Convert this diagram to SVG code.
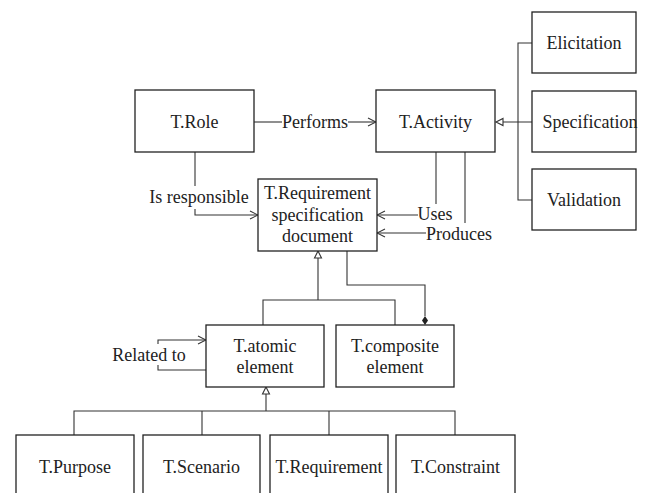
<svg xmlns="http://www.w3.org/2000/svg" width="656" height="493" viewBox="0 0 656 493">
<style>
.box{fill:#fff;stroke:#222;stroke-width:1.3}
.ln{fill:none;stroke:#333;stroke-width:1.1}
.t{font-family:'Liberation Serif','Times New Roman','DejaVu Serif',serif;font-size:18px;fill:#222;text-anchor:middle;dominant-baseline:central}
.tri{fill:#fff;stroke:#333;stroke-width:1.1}
</style>
<defs>
<marker id="open" markerWidth="10" markerHeight="10" refX="9" refY="5" orient="auto" markerUnits="userSpaceOnUse">
<path d="M1,1 L9,5 L1,9" fill="none" stroke="#333" stroke-width="1.1"/>
</marker>
</defs>
<rect width="656" height="493" fill="#fff"/>
<g id="connectors">
<path class="ln" d="M254,122 H282"/>
<path class="ln" d="M348,122 H376" marker-end="url(#open)"/>
<text class="t" x="315" y="122">Performs</text>
<path class="ln" d="M195,152 V186"/>
<path class="ln" d="M195,209 V215 H258" marker-end="url(#open)"/>
<text class="t" x="199" y="197">Is responsible</text>
<path class="ln" d="M436,152 V204"/>
<path class="ln" d="M418,215 H377" marker-end="url(#open)"/>
<text class="t" x="435" y="214">Uses</text>
<path class="ln" d="M465,152 V223"/>
<path class="ln" d="M426,233 H377" marker-end="url(#open)"/>
<text class="t" x="459" y="234">Produces</text>
<path class="ln" d="M532,43 H518 V200 H532 M532,122 H503"/>
<path class="tri" d="M496,122 L503,118.5 L503,125.5 Z"/>
<path class="ln" d="M318,258 V300 M263,325 V300 H395 V325"/>
<path class="tri" d="M318,251 L314.5,258 L321.5,258 Z"/>
<path class="ln" d="M347,251 V285 H425 V316"/>
<path d="M425,316 L428,320.5 L425,325 L422,320.5 Z" fill="#222"/>
<path class="ln" d="M206,370 H158 V365 M158,344 V340 H206" marker-end="url(#open)"/>
<text class="t" x="149" y="355">Related to</text>
<path class="ln" d="M266,393 V411 M74,435 V411 H455 V435 M202,411 V435 M329,411 V435"/>
<path class="tri" d="M266,387 L262.5,394 L269.5,394 Z"/>
</g>
<g id="role"><rect class="box" x="135" y="90" width="119" height="62"/><text class="t" x="194.5" y="122">T.Role</text></g>
<g id="activity"><rect class="box" x="376" y="90" width="119" height="62"/><text class="t" x="435.5" y="122">T.Activity</text></g>
<g id="elicitation"><rect class="box" x="532" y="12" width="104" height="61"/><text class="t" x="584" y="43">Elicitation</text></g>
<g id="specification"><rect class="box" x="532" y="91" width="104" height="61"/><text class="t" x="590" y="122">Specification</text></g>
<g id="validation"><rect class="box" x="532" y="169" width="104" height="61"/><text class="t" x="584" y="200">Validation</text></g>
<g id="reqdoc"><rect class="box" x="258" y="179" width="119" height="72"/>
<text class="t" x="317.5" y="193">T.Requirement</text>
<text class="t" x="317.5" y="215">specification</text>
<text class="t" x="317.5" y="236">document</text></g>
<g id="atomic"><rect class="box" x="206" y="325" width="118" height="62"/>
<text class="t" x="265" y="346">T.atomic</text>
<text class="t" x="265" y="367">element</text></g>
<g id="composite"><rect class="box" x="336" y="325" width="118" height="62"/>
<text class="t" x="395" y="346">T.composite</text>
<text class="t" x="395" y="367">element</text></g>
<g id="purpose"><rect class="box" x="16" y="435" width="118" height="70"/><text class="t" x="75" y="467">T.Purpose</text></g>
<g id="scenario"><rect class="box" x="143" y="435" width="117" height="70"/><text class="t" x="201.5" y="467">T.Scenario</text></g>
<g id="requirement"><rect class="box" x="270" y="435" width="118" height="70"/><text class="t" x="329" y="467">T.Requirement</text></g>
<g id="constraint"><rect class="box" x="396" y="435" width="119" height="70"/><text class="t" x="455.5" y="467">T.Constraint</text></g>
</svg>
